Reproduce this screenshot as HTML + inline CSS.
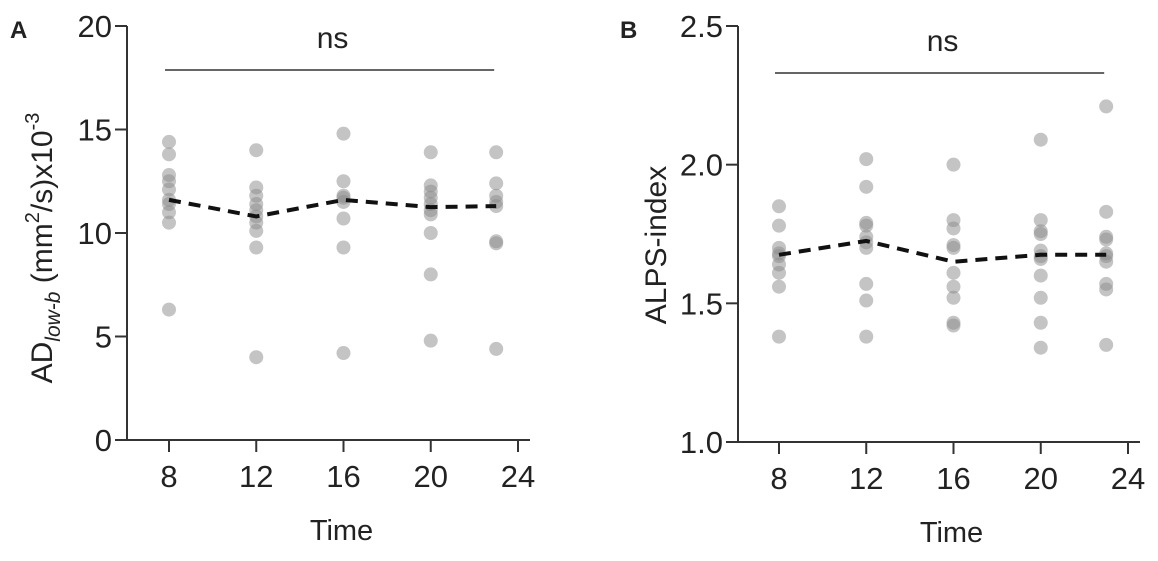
<!DOCTYPE html>
<html><head><meta charset="utf-8"><style>
body{margin:0;background:#fff;}
svg text{font-family:"Liberation Sans",Arial,sans-serif;fill:#222;}
</style></head><body>
<svg id="fig" width="1158" height="556" viewBox="0 0 1158 556" xmlns="http://www.w3.org/2000/svg"></svg>
<script>
const times=[8,12,16,20,23];
const xTicks=[8,12,16,20,24];
const aTicks=[0,5,10,15,20];
const bTicks=[1.0,1.5,2.0,2.5];
const aValues=[
 [14.4,13.8,12.8,12.5,12.1,11.6,11.4,11.0,10.5,6.3],
 [14.0,12.2,11.8,11.4,11.1,10.8,10.5,10.1,9.3,4.0],
 [14.8,12.5,11.8,11.7,11.5,10.7,9.3,4.2],
 [13.9,12.3,12.0,11.7,11.4,11.1,10.9,10.0,8.0,4.8],
 [13.9,12.4,11.8,11.5,11.3,9.6,9.5,4.4]
];
const aMeans=[11.6,10.8,11.6,11.25,11.3];
const bValues=[
 [1.85,1.78,1.70,1.68,1.67,1.64,1.61,1.56,1.38],
 [2.02,1.92,1.79,1.78,1.74,1.72,1.70,1.57,1.51,1.38],
 [2.00,1.80,1.77,1.71,1.70,1.61,1.56,1.52,1.43,1.42],
 [2.09,1.80,1.76,1.75,1.69,1.67,1.66,1.60,1.52,1.43,1.34],
 [2.21,1.83,1.74,1.73,1.68,1.67,1.65,1.57,1.55,1.35]
];
const bMeans=[1.675,1.725,1.65,1.675,1.675];

const NS="http://www.w3.org/2000/svg";
const svg=document.getElementById('fig');
function mk(tag,attrs,parent){const e=document.createElementNS(NS,tag);for(const k in attrs)e.setAttribute(k,attrs[k]);(parent||svg).appendChild(e);return e;}

function panel(cfg){
  const g=mk('g',{});
  
  
  const X=v=>cfg.x0+(v-8)*(cfg.x1-cfg.x0)/16;
  const Y=v=>cfg.y0-(v-cfg.ymin)*(cfg.y0-cfg.y1)/(cfg.ymax-cfg.ymin);
  const ya=mk('line',{x1:cfg.ax,y1:Y(cfg.ymax),x2:cfg.ax,y2:cfg.y0+1,stroke:'#333','stroke-width':2},g);
  
  const xa=mk('line',{x1:cfg.ax,y1:cfg.y0,x2:X(24)+12,y2:cfg.y0,stroke:'#333','stroke-width':2},g);
  
  cfg.yt.forEach(v=>{
    const y=Y(v);
    const t=mk('line',{x1:cfg.ax-12,y1:y,x2:cfg.ax,y2:y,stroke:'#333','stroke-width':2},g);
    
    const l=mk('text',{x:cfg.ax-15,y:y+11,'text-anchor':'end','font-size':31},g);
    l.textContent=cfg.fmt(v);
    
  });
  xTicks.forEach(v=>{
    const x=X(v);
    const t=mk('line',{x1:x,y1:cfg.y0,x2:x,y2:cfg.y0+12,stroke:'#333','stroke-width':2},g);
    
    const l=mk('text',{x:x,y:cfg.y0+47,'text-anchor':'middle','font-size':31},g);
    l.textContent=v;
    
  });
  cfg.vals.forEach((arr,i)=>arr.forEach(v=>{
    const c=mk('circle',{cx:X(times[i]),cy:Y(v),r:7,fill:'#8a8a8a','fill-opacity':0.5},g);
    
  }));
  const pl=mk('polyline',{points:cfg.means.map((m,i)=>X(times[i])+','+Y(m)).join(' '),fill:'none',stroke:'#111','stroke-width':4,'stroke-dasharray':'12,8'},g);
  
  const s=mk('line',{x1:X(times[0])-4,y1:cfg.sy,x2:X(times[4])-2,y2:cfg.sy,stroke:'#333','stroke-width':1.5},g);
  
  const ns=mk('text',{x:(X(times[0])+X(times[4]))/2,y:cfg.sy-22,'text-anchor':'middle','font-size':30},g);
  ns.textContent='ns';
  const xt=mk('text',{x:(X(8)+X(24))/2-2,y:cfg.y0+100,'text-anchor':'middle','font-size':29},g);
  xt.textContent='Time';
  const pa=mk('text',{x:cfg.lx,y:38,'font-size':24,'font-weight':'bold'},g);
  pa.textContent=cfg.letter;
  return g;
}
panel({name:'panel-a',letter:'A',lx:10,x0:169,x1:518,ax:127,y0:440,y1:26,ymin:0,ymax:20,yt:aTicks,fmt:v=>String(v),vals:aValues,means:aMeans,sy:70});
panel({name:'panel-b',letter:'B',lx:620,x0:779,x1:1128,ax:738,y0:442,y1:26,ymin:1.0,ymax:2.5,yt:bTicks,fmt:v=>v.toFixed(1),vals:bValues,means:bMeans,sy:73});

const ta=mk('text',{transform:'translate(52,248) rotate(-90)','text-anchor':'middle','font-size':30});

ta.innerHTML='AD<tspan font-size="21" font-style="italic" dy="8">low-b</tspan><tspan dy="-8"> (mm</tspan><tspan font-size="20" dy="-13">2</tspan><tspan dy="13">/s)x10</tspan><tspan font-size="20" dy="-13">-3</tspan>';
const tb=mk('text',{transform:'translate(666,245) rotate(-90)','text-anchor':'middle','font-size':30});
tb.textContent='ALPS-index';

</script>
</body></html>
